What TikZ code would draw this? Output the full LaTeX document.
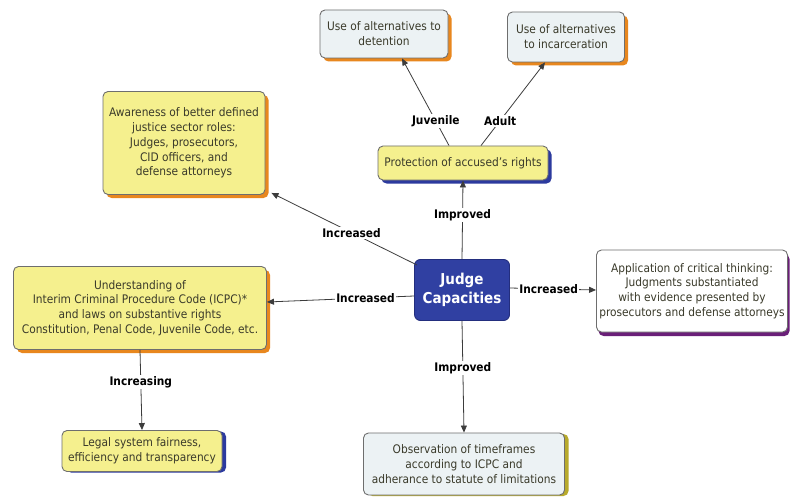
\documentclass[tikz,border=0pt]{standalone}
\usepackage{fontspec}
\setmainfont{DejaVu Sans Condensed}
\usetikzlibrary{arrows.meta,shadows}
\definecolor{yel}{HTML}{F5F08E}
\definecolor{lblue}{HTML}{ECF2F4}
\definecolor{bord}{HTML}{6E6E6E}
\definecolor{txt}{HTML}{3A3A2A}
\definecolor{orng}{HTML}{E8871E}
\definecolor{dblue}{HTML}{2C3A9E}
\definecolor{purp}{HTML}{6A1F78}
\definecolor{olive}{HTML}{B8AA2C}
\definecolor{judgefill}{HTML}{3040A2}
\definecolor{lineg}{HTML}{3C3C3C}
\tikzset{
 box/.style={draw=bord, line width=0.9pt, rounded corners=5pt, align=center,
   font=\fontsize{11.8}{14.8}\selectfont, text=txt, inner sep=1pt},
 ybox/.style={box, fill=yel},
 bbox/.style={box, fill=lblue},
 wbox/.style={box, fill=white},
 sh/.style={drop shadow={shadow xshift=3.5pt, shadow yshift=-3.5pt, fill=#1, opacity=1}},
 lbl/.style={font=\fontsize{11.8}{13}\selectfont\bfseries, fill=white, inner sep=1.5pt, text=black},
 arr/.style={draw=lineg, line width=0.8pt, -{Triangle[length=7pt,width=6pt]}},
}
\begin{document}
\begin{tikzpicture}[x=1pt,y=-1pt]
\path[use as bounding box, fill=white] (0,0) rectangle (791,497);

\node[bbox, sh=orng, minimum width=128pt, minimum height=48pt] (det) at (384,34)
  {Use of alternatives to\\detention};
\node[bbox, sh=orng, minimum width=117pt, minimum height=50pt] (inc) at (566,37)
  {Use of alternatives\\to incarceration};
\node[ybox, sh=orng, minimum width=162pt, minimum height=103pt] (aware) at (184,143)
  {Awareness of better defined\\justice sector roles:\\Judges, prosecutors,\\CID officers, and\\defense attorneys};
\node[ybox, sh=dblue, minimum width=170pt, minimum height=34pt] (prot) at (463,163)
  {Protection of accused's rights};
\node[draw=dblue!80!black, fill=judgefill, rounded corners=6pt, line width=0.9pt,
  minimum width=95pt, minimum height=61pt, align=center, text=white,
  font=\fontsize{15}{18.5}\selectfont\bfseries] (judge) at (462,290) {Judge\\Capacities};
\node[ybox, sh=orng, minimum width=253pt, minimum height=83pt] (under) at (140,308)
  {Understanding of\\Interim Criminal Procedure Code (ICPC)*\\and laws on substantive rights\\Constitution, Penal Code, Juvenile Code, etc.};
\node[wbox, drop shadow={shadow xshift=2pt, shadow yshift=-4pt, fill=purp, opacity=1},
  minimum width=191pt, minimum height=82pt] (app) at (692,291)
  {Application of critical thinking:\\Judgments substantiated\\with evidence presented by\\prosecutors and defense attorneys};
\node[ybox, drop shadow={shadow xshift=4pt, shadow yshift=-1pt, fill=dblue, opacity=1},
  minimum width=160pt, minimum height=41pt] (legal) at (142,451)
  {Legal system fairness,\\efficiency and transparency};
\node[bbox, drop shadow={shadow xshift=4pt, shadow yshift=-1pt, fill=olive, opacity=1},
  minimum width=201pt, minimum height=62pt] (obs) at (464,464)
  {Observation of timeframes\\according to ICPC and\\adherance to statute of limitations};

\draw[arr] (judge.north) -- node[lbl, pos=0.56] {Improved} (prot.south);
\draw[arr] ([xshift=-14pt]prot.north) -- node[lbl, pos=0.28] {Juvenile} ([xshift=18pt]det.south);
\draw[arr] ([xshift=18pt]prot.north) -- node[lbl, pos=0.3] {Adult} ([xshift=-21pt]inc.south);
\draw[arr] ([shift={(3pt,-6pt)}]judge.north west) -- node[lbl, pos=0.45] {Increased} ([shift={(6pt,2pt)}]aware.south east);
\draw[arr] ([yshift=-6pt]judge.west) -- node[lbl, pos=0.33] {Increased} ([yshift=6pt]under.east);
\draw[arr] ([yshift=2pt]judge.east) -- node[lbl, pos=0.45] {Increased} ([yshift=1pt]app.west);
\draw[arr] (judge.south) -- node[lbl, pos=0.42] {Improved} (obs.north);
\draw[arr] (under.south) -- node[lbl, pos=0.4] {Increasing} (legal.north);
\end{tikzpicture}
\end{document}
